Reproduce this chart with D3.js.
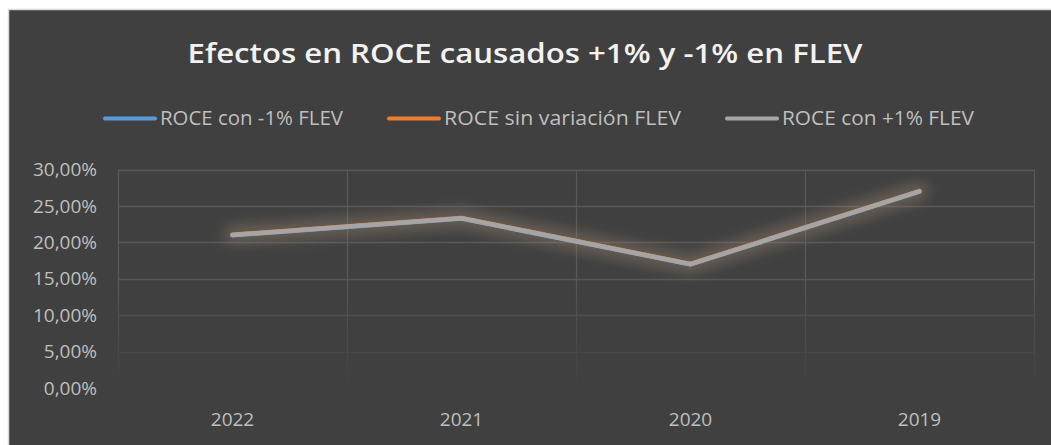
<!DOCTYPE html>
<html>
<head>
<meta charset="utf-8">
<script src="https://cdn.jsdelivr.net/npm/d3@7"></script>
<style>
  html, body { margin: 0; background: #404040; overflow: hidden; }
  svg { display: block; }
</style>
</head>
<body>
<script>
// chart data
var years = ["2022", "2021", "2020", "2019"];
var roceMinus = [20.97, 23.27, 16.97, 26.97];
var roceBase = [21.04, 23.34, 17.04, 27.04];
var rocePlus = [21.0, 23.3, 17.0, 27.0];
var yTicks = [0, 5, 10, 15, 20, 25, 30];

var seriesNames = ["ROCE con -1% FLEV", "ROCE sin variación FLEV", "ROCE con +1% FLEV"];
var seriesColors = ["#5b9bd5", "#ed7d31", "#a5a5a5"];

var W = 1051, H = 445;
var bg = "#404040";
var font = "'Open Sans', sans-serif";

var svg = d3.select("body").append("svg")
    .attr("width", W)
    .attr("height", H);

var defs = svg.append("defs");

// glow around the lines
defs.append("filter")
    .attr("id", "glow")
    .attr("x", "-20%").attr("y", "-60%")
    .attr("width", "140%").attr("height", "220%")
    .append("feGaussianBlur")
    .attr("stdDeviation", 7);

// fade of the grid toward the bottom
var fade = defs.append("linearGradient")
    .attr("id", "fade")
    .attr("x1", 0).attr("x2", 0).attr("y1", 0).attr("y2", 1);
fade.append("stop").attr("offset", "0%").attr("stop-color", bg).attr("stop-opacity", 0);
fade.append("stop").attr("offset", "100%").attr("stop-color", bg).attr("stop-opacity", 1);

// white page margin and chart area
svg.append("rect")
    .attr("width", W)
    .attr("height", H)
    .attr("fill", "#ffffff");

svg.append("rect")
    .attr("x", 8.5)
    .attr("y", 9.5)
    .attr("width", W + 20)
    .attr("height", H + 20)
    .attr("fill", bg)
    .attr("stroke", "#d9d9d9")
    .attr("stroke-width", 1.5);

var left = 118, right = 1034;

var x = d3.scaleBand()
    .domain(years)
    .range([left, right]);

var y = d3.scaleLinear()
    .domain([0, 30])
    .range([388, 169.5]);

// grid
var grid = svg.append("g");
grid.selectAll("line.h")
    .data(yTicks)
    .enter().append("line")
    .attr("x1", left).attr("x2", right)
    .attr("y1", function (d) { return Math.round(y(d)) + 0.5; })
    .attr("y2", function (d) { return Math.round(y(d)) + 0.5; })
    .attr("stroke", "#595959")
    .attr("stroke-width", 1.3);

var vLines = [left].concat(years.map(function (d) { return x(d) + x.bandwidth(); }));
grid.selectAll("line.v")
    .data(vLines)
    .enter().append("line")
    .attr("x1", function (d) { return Math.round(d) + 0.5; })
    .attr("x2", function (d) { return Math.round(d) + 0.5; })
    .attr("y1", y(30))
    .attr("y2", y(0))
    .attr("stroke", "#595959")
    .attr("stroke-width", 1.3);

svg.append("rect")
    .attr("x", left - 2)
    .attr("y", y(16))
    .attr("width", right - left + 4)
    .attr("height", y(0) - y(16) + 3)
    .attr("fill", "url(#fade)");

// y axis labels
var yAxis = d3.axisLeft(y)
    .tickValues(yTicks)
    .tickSize(0)
    .tickPadding(0)
    .tickFormat(function (d) { return d3.format(".2f")(d).replace(".", ",") + "%"; });

var gy = svg.append("g")
    .attr("transform", "translate(97,0)")
    .call(yAxis);
gy.select(".domain").remove();
gy.selectAll("text")
    .attr("fill", "#bfbfbf")
    .style("font-family", font)
    .style("font-size", "19px");

// x axis labels
var xAxis = d3.axisBottom(x).tickSize(0).tickPadding(0);
var gx = svg.append("g")
    .attr("transform", "translate(0,412)")
    .call(xAxis);
gx.select(".domain").remove();
gx.selectAll("text")
    .attr("fill", "#bfbfbf")
    .style("font-family", font)
    .style("font-size", "19px");

// lines
var allSeries = [roceMinus, roceBase, rocePlus];
var line = d3.line()
    .x(function (d, i) { return x(years[i]) + x.bandwidth() / 2; })
    .y(function (d) { return y(d); });

svg.append("path")
    .attr("d", line(rocePlus))
    .attr("fill", "none")
    .attr("stroke", "#9a8670")
    .attr("stroke-opacity", 0.45)
    .attr("stroke-width", 18)
    .attr("stroke-linecap", "round")
    .attr("stroke-linejoin", "round")
    .attr("filter", "url(#glow)");

allSeries.forEach(function (s, i) {
    svg.append("path")
        .attr("d", line(s))
        .attr("fill", "none")
        .attr("stroke", seriesColors[i])
        .attr("stroke-width", 4.5)
        .attr("stroke-linecap", "round")
        .attr("stroke-linejoin", "round");
});

// title
var title = svg.append("text")
    .attr("x", 525)
    .attr("y", 63)
    .attr("text-anchor", "middle")
    .attr("fill", "#f2f2f2")
    .style("font-family", font)
    .style("font-weight", 600)
    .style("font-size", "27px")
    .text("Efectos en ROCE causados +1% y -1% en FLEV");
var tw = title.node().getComputedTextLength();
if (Math.abs(tw - 675) > 10) {
    title.attr("textLength", 675).attr("lengthAdjust", "spacingAndGlyphs");
}

// legend
var legendX = [103, 387, 725];
var legendW = [183, 237, 192];
var legend = svg.append("g");
seriesNames.forEach(function (name, i) {
    legend.append("line")
        .attr("x1", legendX[i] + 2)
        .attr("x2", legendX[i] + 52)
        .attr("y1", 118.5)
        .attr("y2", 118.5)
        .attr("stroke", seriesColors[i])
        .attr("stroke-width", 4)
        .attr("stroke-linecap", "round");
    var t = legend.append("text")
        .attr("x", legendX[i] + 57)
        .attr("y", 125)
        .attr("fill", "#bfbfbf")
        .style("font-family", font)
        .style("font-size", "19.5px")
        .text(name);
    var w = t.node().getComputedTextLength();
    if (Math.abs(w - legendW[i]) > 6) {
        t.attr("textLength", legendW[i]).attr("lengthAdjust", "spacingAndGlyphs");
    }
});
</script>
</body>
</html>
